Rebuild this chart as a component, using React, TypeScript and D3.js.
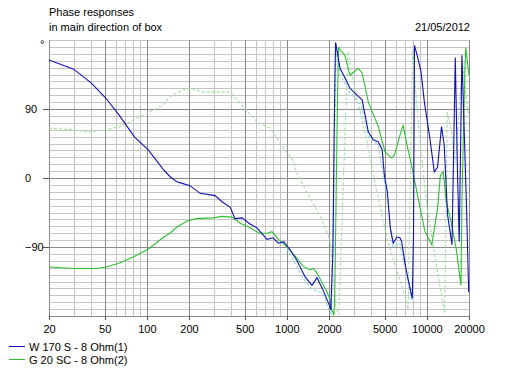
import { useEffect, useRef } from 'react';
import * as d3 from 'd3';

// tick labels / legend
const xTickLabels = [20, 50, 100, 200, 500, 1000, 2000, 5000, 10000, 20000];
const yTickLabels = [90, 0, -90];
const legendNames = ['W 170 S - 8 Ohm(1)', 'G 20 SC - 8 Ohm(2)'];

// W 170 S (blue)
const freqW170 = [20, 30, 40, 51, 64, 82, 102, 130, 146, 164, 172, 203, 240, 307, 344, 393, 426, 479, 546, 612, 721, 796, 870, 950, 1030, 1175, 1350, 1512, 1642, 1790, 1940, 2032, 2060, 2100, 2130, 2150, 2175, 2205, 2230, 2398, 2610, 2825, 3170, 3450, 3620, 3820, 4140, 4500, 4800, 4970, 5220, 5480, 5750, 6120, 6430, 6610, 6960, 7300, 7870, 8030, 8160, 8610, 9090, 9600, 10430, 11300, 11920, 12730, 13300, 14060, 15120, 15960, 16570, 17030, 17800, 18520, 19240, 19900];
const phaseW170 = [154, 142, 124, 104, 81, 53, 37, 12, 2, -5, -6, -10, -20, -23, -31, -38, -53, -52, -60, -65, -80, -78, -85, -83, -91, -107, -129, -140, -130, -144, -159, -168, -172, -130, -100, -40, 50, 133, 177, 143, 130, 117, 108, 102, 82, 60, 50, 47, 37, 4, -18, -65, -85, -77, -78, -83, -110, -130, -157, -74, 173, 157, 138, 99, 56, 8, 14, 67, 43, -48, -87, 157, 4, -83, 160, 56, -44, -149];

// G 20 SC (green)
const freqG20 = [20, 30, 44, 51, 64, 80, 102, 130, 146, 164, 194, 227, 296, 344, 405, 465, 546, 640, 721, 783, 870, 1003, 1175, 1304, 1460, 1550, 1642, 1790, 1940, 2030, 2095, 2170, 2200, 2250, 2300, 2340, 2600, 2825, 3230, 3450, 3820, 4500, 5030, 5590, 5870, 6430, 6770, 7220, 7850, 8950, 9700, 10850, 11940, 12500, 13100, 13740, 14900, 16160, 17520, 17800, 18650, 18950, 20000];
const phaseG20 = [-116, -118, -118, -116, -111, -103, -93, -78, -72, -64, -56, -53, -52, -50, -51, -59, -65, -72, -72, -70, -80, -90, -104, -115, -120, -118, -124, -137, -149, -158, -172, -179, -150, -20, 100, 170, 160, 134, 143, 137, 99, 67, 34, 26, 30, 56, 69, 43, 13, -39, -70, -87, -39, 4, 8, -31, -57, -91, -140, -31, 134, 170, 134];

// G 20 SC reference phase (light green, dashed)
const freqG20Ref = [20, 30, 39, 51, 64, 102, 130, 146, 164, 180, 203, 252, 393, 488, 612, 760, 940, 1107, 1175, 1400, 1460, 1750, 2030, 2150, 2240, 2350, 2730, 3070, 3710, 4370, 5160, 6070, 7160, 7350, 7900, 8760, 10010, 11620, 13400, 14000, 15000, 16000, 17000, 18000, 19000, 20000];
const phaseG20Ref = [65, 63, 60, 63, 67, 85, 95, 106, 111, 115, 117, 112, 112, 93, 73, 65, 40, 23, 7, -20, -25, -52, -80, -130, -170, -178, 165, 115, 50, -16, -77, -120, -159, -172, 167, 63, -38, -111, -176, 86, 60, 20, 90, 150, 110, 80];

// W 170 S reference phase (light blue, dashed)
const freqW170Ref = [1000, 1300, 1500, 1800, 2000, 2080, 2250, 2400, 2800, 3400, 3800, 4500, 5200, 5700, 6400, 7800];
const phaseW170Ref = [-92, -130, -145, -150, -172, -178, 170, 135, 112, 95, 55, 42, -25, -90, -85, -160];

const width = 514;
const height = 371;
const plot = { left: 49, right: 469, top: 40, bottom: 316 };
const font = '"Liberation Sans", Arial, sans-serif';

export default function App() {
  const svgRef = useRef<SVGSVGElement>(null);

  useEffect(() => {
    if (!svgRef.current) return;
    const svg = d3.select(svgRef.current);
    svg.selectAll('*').remove();

    const x = d3.scaleLog().domain([20, 20000]).range([plot.left, plot.right]);
    const y = d3.scaleLinear().domain([-180, 180]).range([plot.bottom, plot.top]);
    const px = (v: number) => Math.round(v) + 0.5;

    svg.append('rect').attr('width', width).attr('height', height).attr('fill', '#fff');

    // grid
    const grid = svg.append('g').attr('shape-rendering', 'crispEdges');
    const minorFreqs: number[] = [];
    [10, 100, 1000, 10000].forEach(dec => {
      for (let k = 1; k <= 9; k++) {
        const f = dec * k;
        if (f >= 20 && f <= 20000) minorFreqs.push(f);
      }
    });
    grid.selectAll('.vminor')
      .data(minorFreqs.filter(f => !xTickLabels.includes(f)))
      .enter().append('line')
      .attr('x1', d => px(x(d))).attr('x2', d => px(x(d)))
      .attr('y1', plot.top).attr('y2', plot.bottom)
      .attr('stroke', '#c4c4c4');
    const hLines = d3.range(-180, 181, 9);
    grid.selectAll('.hminor')
      .data(hLines.filter(v => !yTickLabels.includes(v)))
      .enter().append('line')
      .attr('x1', plot.left).attr('x2', plot.right)
      .attr('y1', d => px(y(d))).attr('y2', d => px(y(d)))
      .attr('stroke', '#c4c4c4');
    grid.selectAll('.vmajor')
      .data(xTickLabels)
      .enter().append('line')
      .attr('x1', d => px(x(d))).attr('x2', d => px(x(d)))
      .attr('y1', plot.top).attr('y2', plot.bottom)
      .attr('stroke', '#8a8a8a');
    grid.selectAll('.hmajor')
      .data([...yTickLabels, -180])
      .enter().append('line')
      .attr('x1', plot.left).attr('x2', plot.right)
      .attr('y1', d => px(y(d))).attr('y2', d => px(y(d)))
      .attr('stroke', '#8a8a8a');

    // axes
    const xAxis = svg.append('g')
      .attr('transform', `translate(0,${px(plot.bottom) - 0.5})`)
      .call(d3.axisBottom(x).tickValues(xTickLabels).tickFormat(d3.format('d')).tickSize(4).tickPadding(5));
    xAxis.select('.domain').remove();
    xAxis.selectAll('line').attr('stroke', '#555').attr('shape-rendering', 'crispEdges');
    xAxis.selectAll('text').style('font-family', font).style('font-size', '11px').attr('fill', '#000');

    const yAxis = svg.append('g')
      .attr('transform', `translate(${plot.left},0)`)
      .call(d3.axisLeft(y).tickValues(yTickLabels).tickFormat(d3.format('d')).tickSize(6));
    yAxis.select('.domain').remove();
    yAxis.selectAll('line').attr('stroke', '#555').attr('shape-rendering', 'crispEdges');
    yAxis.selectAll('text')
      .attr('x', 25 - plot.left)
      .attr('text-anchor', 'start')
      .style('font-family', font).style('font-size', '11px').attr('fill', '#000');

    // curves
    svg.append('clipPath').attr('id', 'plotclip')
      .append('rect')
      .attr('x', plot.left).attr('y', plot.top - 1)
      .attr('width', plot.right - plot.left + 1).attr('height', plot.bottom - plot.top + 2);

    const line = d3.line<[number, number]>()
      .x(d => x(d[0]))
      .y(d => y(Math.max(-180, Math.min(180, d[1]))));

    const series = [
      { f: freqG20Ref, v: phaseG20Ref, color: '#a6dca6', dash: '3,2' },
      { f: freqW170Ref, v: phaseW170Ref, color: '#8ed6e6', dash: '3,2' },
      { f: freqG20, v: phaseG20, color: '#2fbf2f', dash: null },
      { f: freqW170, v: phaseW170, color: '#1010b8', dash: null },
    ];
    const curves = svg.append('g').attr('clip-path', 'url(#plotclip)');
    series.forEach(s => {
      curves.append('path')
        .datum(s.f.map((f, i) => [f, s.v[i]] as [number, number]))
        .attr('fill', 'none')
        .attr('stroke', s.color)
        .attr('stroke-width', 1.1)
        .attr('stroke-dasharray', s.dash)
        .attr('d', line);
    });

    // texts
    const txt = (t: string, tx: number, ty: number, anchor = 'start') =>
      svg.append('text')
        .attr('x', tx).attr('y', ty)
        .attr('text-anchor', anchor)
        .style('font-family', font).style('font-size', '11px')
        .attr('fill', '#000')
        .text(t);
    txt('Phase responses', 49, 16);
    txt('in main direction of box', 49, 31);
    txt('21/05/2012', 470, 31, 'end');
    txt('°', 40, 48);

    // legend
    const legendColors = ['#1010b8', '#2fbf2f'];
    legendNames.forEach((name, i) => {
      const ly = 346.5 + i * 13;
      svg.append('line')
        .attr('x1', 9).attr('x2', 25).attr('y1', ly).attr('y2', ly)
        .attr('stroke', legendColors[i]).attr('shape-rendering', 'crispEdges');
      txt(name, 29, 351 + i * 12.5);
    });
  }, []);

  return (
    <svg
      ref={svgRef}
      width={width}
      height={height}
      style={{ position: 'absolute', left: 0, top: 0, display: 'block' }}
    />
  );
}
